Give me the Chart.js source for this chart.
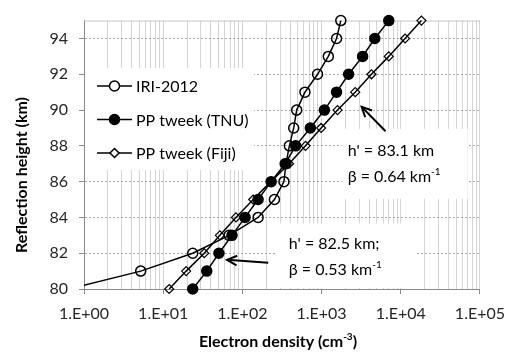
<!DOCTYPE html>
<html>
<head>
<meta charset="utf-8">
<script src="https://cdn.jsdelivr.net/npm/chart.js@4.4.1/dist/chart.umd.min.js"></script>
<style>
  html, body { margin: 0; padding: 0; background: #fff; }
  canvas { display: block; }
</style>
</head>
<body>
<canvas id="profileChart" width="515" height="354"></canvas>
<script>
// reflection heights (km) and electron density (cm-3)
const heights = [80, 81, 82, 83, 84, 85, 86, 87, 88, 89, 90, 91, 92, 93, 94, 95];
const iriDensity = [0.65, 5.2, 23.6, 68, 158, 254, 335, 355, 392, 445, 485, 617, 890, 1217, 1546, 1750];
const tnuDensity = [23.6, 35.5, 50.6, 74, 108, 158, 231, 347, 471, 722, 1086, 1546, 2196, 3300, 4700, 7060];
const fijiDensity = [11.9, 19.5, 33, 52, 83, 137, 229, 389, 627, 988, 1590, 2660, 4265, 7060, 11350, 18240];

const seriesNames = ['IRI-2012', 'PP tweek (TNU)', 'PP tweek (Fiji)'];
const xMajorTicks = [1, 10, 100, 1000, 10000, 100000];
const xTickLabels = ['1.E+00', '1.E+01', '1.E+02', '1.E+03', '1.E+04', '1.E+05'];
const yTicks = [80, 82, 84, 86, 88, 90, 92, 94];

// annotation text blocks: [x value, y value] of text start, lines
const notes = [
  { at: [2140, 87.72], lines: [["h' = 83.1 km"], ['β = 0.64 km', '-1']] },
  { at: [386, 82.55], lines: [["h' = 82.5 km;"], ['β = 0.53 km', '-1']] }
];
// arrows: from [x,y] to [x,y] in data values
const arrows = [
  { from: [6430, 88.82], to: [3210, 90.18] },
  { from: [212, 81.47], to: [64, 81.63] }
];

const FONT = 'Lato, "Open Sans", sans-serif';
const ctx = document.getElementById('profileChart').getContext('2d');

function toPoints(vals) {
  return heights.map((h, i) => ({ x: vals[i], y: h }));
}

function isMajor(v) {
  const l = Math.log10(v);
  return Math.abs(l - Math.round(l)) < 1e-9;
}

function drawRich(c, parts, x, y, size, bold) {
  // parts[0] normal, parts[1] superscript
  const w = bold ? 'bold ' : '';
  c.font = w + size + 'px ' + FONT;
  c.textBaseline = 'middle';
  c.textAlign = 'left';
  c.fillText(parts[0], x, y);
  let cx = x + c.measureText(parts[0]).width;
  if (parts[1]) {
    c.font = w + Math.round(size * 0.62) + 'px ' + FONT;
    c.fillText(parts[1], cx, y - size * 0.3);
    cx += c.measureText(parts[1]).width;
  }
  if (parts[2]) {
    c.font = w + size + 'px ' + FONT;
    c.fillText(parts[2], cx, y);
    cx += c.measureText(parts[2]).width;
  }
  return cx - x;
}

function drawMarker(c, kind, x, y) {
  c.save();
  c.lineWidth = 1.5;
  c.strokeStyle = '#000';
  c.beginPath();
  if (kind === 'rectRot') {
    const r = 4.5;
    c.moveTo(x, y - r); c.lineTo(x + r, y); c.lineTo(x, y + r); c.lineTo(x - r, y); c.closePath();
    c.fillStyle = '#fff';
    c.fill();
  } else {
    c.arc(x, y, 5, 0, Math.PI * 2);
    c.fillStyle = kind === 'filled' ? '#000' : '#fff';
    c.fill();
  }
  c.stroke();
  c.restore();
}

const overlay = {
  id: 'overlay',
  beforeDatasetsDraw(chart) {
    const { ctx: c, chartArea: a, scales: { x, y } } = chart;
    c.save();
    c.strokeStyle = '#c4c4c4';
    c.lineWidth = 1;
    c.beginPath(); c.moveTo(a.left, a.top + 0.5); c.lineTo(a.right, a.top + 0.5); c.stroke();
    c.fillStyle = '#fff';
    // legend box
    c.fillRect(a.left + 1, 68, 169, 102);
    // note boxes
    notes.forEach((n, i) => {
      const px = x.getPixelForValue(n.at[0]);
      const py = y.getPixelForValue(n.at[1]);
      const left = px - (i === 0 ? 6 : 13);
      const top = py - (i === 0 ? 22 : 20);
      const bottom = Math.min(py + 26 + 22, a.bottom - 1);
      c.fillRect(left, top, i === 0 ? 126 : 141, bottom - top);
    });
    c.restore();
  },
  afterDatasetsDraw(chart) {
    const { ctx: c, chartArea: a, scales: { x, y } } = chart;
    c.save();
    c.fillStyle = '#000';
    // legend
    const kinds = ['open', 'filled', 'rectRot'];
    seriesNames.forEach((name, i) => {
      const ry = 86 + i * 33.5;
      c.strokeStyle = '#000';
      c.lineWidth = 1.5;
      c.beginPath(); c.moveTo(97, ry); c.lineTo(132, ry); c.stroke();
      drawMarker(c, kinds[i], 114.5, ry);
      c.fillStyle = '#000';
      c.font = '16px ' + FONT;
      c.textAlign = 'left';
      c.textBaseline = 'middle';
      c.fillText(name, 136, ry + 1);
    });
    // notes
    notes.forEach(n => {
      const px = x.getPixelForValue(n.at[0]);
      const py = y.getPixelForValue(n.at[1]);
      n.lines.forEach((ln, j) => {
        c.fillStyle = '#000';
        drawRich(c, ln, px, py + j * 26, 16, false);
      });
    });
    // arrows
    arrows.forEach(ar => {
      const x1 = x.getPixelForValue(ar.from[0]), y1 = y.getPixelForValue(ar.from[1]);
      const x2 = x.getPixelForValue(ar.to[0]), y2 = y.getPixelForValue(ar.to[1]);
      const ang = Math.atan2(y2 - y1, x2 - x1);
      c.strokeStyle = '#000';
      c.lineWidth = 2;
      c.beginPath(); c.moveTo(x1, y1); c.lineTo(x2, y2); c.stroke();
      c.beginPath();
      c.moveTo(x2 - 11 * Math.cos(ang - 0.45), y2 - 11 * Math.sin(ang - 0.45));
      c.lineTo(x2, y2);
      c.lineTo(x2 - 11 * Math.cos(ang + 0.45), y2 - 11 * Math.sin(ang + 0.45));
      c.stroke();
    });
    c.restore();
  },
  afterDraw(chart) {
    const { ctx: c, chartArea: a } = chart;
    c.save();
    c.fillStyle = '#000';
    // x title
    c.font = 'bold 16px ' + FONT;
    const parts = ['Electron density (cm', '-3', ')'];
    let w = c.measureText(parts[0]).width + c.measureText(parts[2]).width;
    c.font = 'bold 10px ' + FONT;
    w += c.measureText(parts[1]).width;
    drawRich(c, parts, (a.left + a.right) / 2 - 4 - w / 2, 342, 16, true);
    // y title
    c.translate(22, 175);
    c.rotate(-Math.PI / 2);
    c.font = 'bold 16px ' + FONT;
    c.textAlign = 'center';
    c.textBaseline = 'middle';
    c.fillText('Reflection height (km)', 0, 0);
    c.restore();
  }
};

const lineStyle = {
  borderColor: '#000', borderWidth: 1.5, tension: 0, showLine: true, pointBorderWidth: 1.5,
  clip: { left: 0, top: 10, right: 10, bottom: 10 }
};

new Chart(ctx, {
  type: 'scatter',
  data: {
    datasets: [
      { ...lineStyle, label: seriesNames[0], data: toPoints(iriDensity), pointStyle: 'circle', pointRadius: 5, pointBackgroundColor: 'rgba(0,0,0,0)', pointBorderColor: '#000' },
      { ...lineStyle, label: seriesNames[1], data: toPoints(tnuDensity), pointStyle: 'circle', pointRadius: 5, pointBackgroundColor: '#000', pointBorderColor: '#000' },
      { ...lineStyle, label: seriesNames[2], data: toPoints(fijiDensity), pointStyle: 'rectRot', pointRadius: 4.5, pointBorderWidth: 1.2, pointBackgroundColor: 'rgba(0,0,0,0)', pointBorderColor: '#000' }
    ]
  },
  options: {
    responsive: false,
    animation: false,
    devicePixelRatio: 1,
    layout: { padding: { left: 0, top: 12, right: 27, bottom: 0 } },
    plugins: { legend: { display: false }, tooltip: { enabled: false } },
    scales: {
      x: {
        type: 'logarithmic',
        min: 1,
        max: 100000,
        afterBuildTicks: (scale) => {
          const t = [];
          for (let k = 0; k < xMajorTicks.length - 1; k++) {
            for (let m = 1; m <= 9; m++) t.push({ value: m * xMajorTicks[k] });
          }
          t.push({ value: xMajorTicks[xMajorTicks.length - 1] });
          scale.ticks = t;
        },
        afterFit: (scale) => { scale.height = 65; },
        ticks: {
          autoSkip: false,
          maxRotation: 0,
          padding: 10,
          color: '#262626',
          font: { family: FONT, size: 16 },
          callback: (v) => {
            const i = xMajorTicks.indexOf(v);
            return i >= 0 ? xTickLabels[i] : '';
          }
        },
        grid: {
          color: '#d4d4d4',
          lineWidth: 1,
          tickLength: 5,
          tickColor: (c) => (c.tick && isMajor(c.tick.value) ? '#8a8a8a' : 'rgba(0,0,0,0)')
        },
        border: { color: '#8a8a8a', width: 1 }
      },
      y: {
        type: 'linear',
        min: 80,
        max: 95,
        afterBuildTicks: (scale) => { scale.ticks = yTicks.map(v => ({ value: v })); },
        afterFit: (scale) => { scale.width = 84; },
        ticks: {
          padding: 11,
          color: '#262626',
          font: { family: FONT, size: 16 }
        },
        grid: {
          color: '#a6a6a6',
          lineWidth: 1,
          tickLength: 5,
          tickColor: '#8a8a8a'
        },
        border: { color: '#8a8a8a', width: 1, dash: [2, 2] }
      }
    }
  },
  plugins: [overlay]
});
</script>
</body>
</html>
